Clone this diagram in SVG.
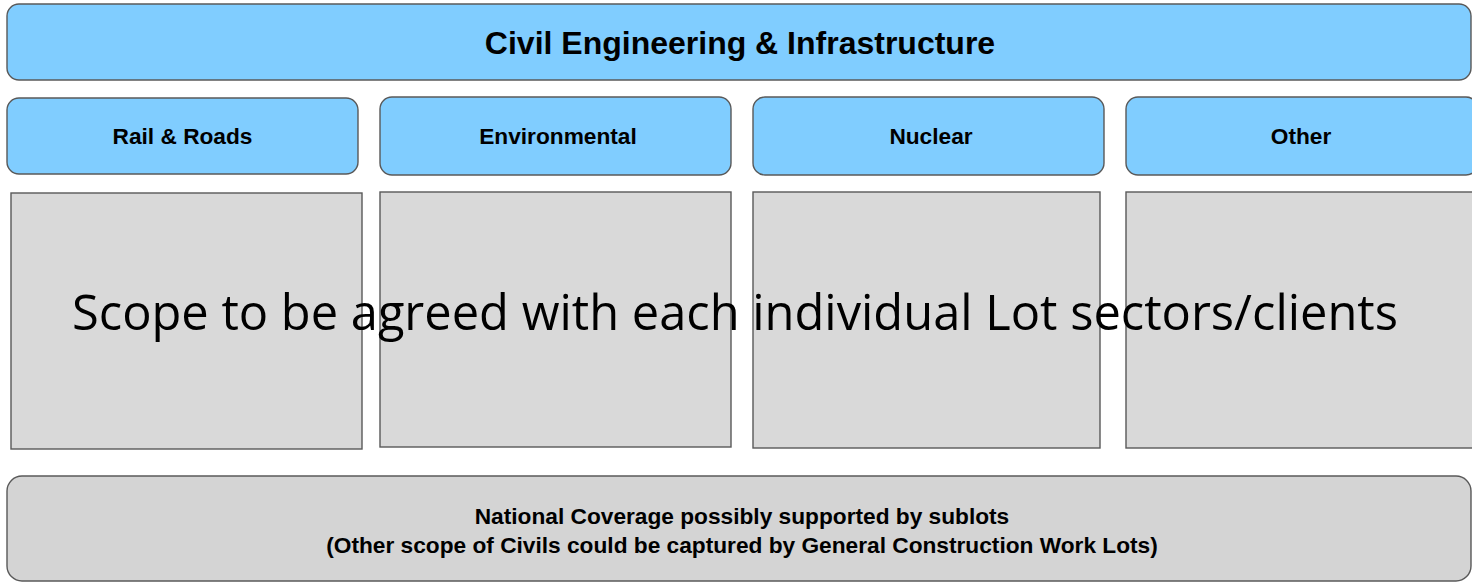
<svg xmlns="http://www.w3.org/2000/svg" width="1472" height="582" viewBox="0 0 1472 582">
<style>
.blue{fill:#80cdff;stroke:#595959;stroke-width:1.4}
.gray{fill:#d9d9d9;stroke:#595959;stroke-width:1.4}
.base{fill:#d4d4d4;stroke:#595959;stroke-width:1.4}
.lbl{font-family:"Liberation Sans",Arial,sans-serif;font-weight:bold;fill:#000;text-anchor:middle}
.scope{font-family:"Open Sans","Noto Sans",sans-serif;fill:#000}
</style>
<rect width="1472" height="582" fill="#ffffff"/>
<g id="title">
<rect class="blue" x="7" y="4" width="1464" height="76" rx="12"/>
<text class="lbl" x="740" y="54" font-size="32">Civil Engineering &amp; Infrastructure</text>
</g>
<g id="rail">
<rect class="blue" x="7" y="98" width="351" height="76" rx="12"/>
<text class="lbl" x="182.5" y="143.5" font-size="22.7">Rail &amp; Roads</text>
</g>
<g id="environmental">
<rect class="blue" x="380" y="97" width="351" height="78" rx="12"/>
<text class="lbl" x="558" y="143.5" font-size="22.7">Environmental</text>
</g>
<g id="nuclear">
<rect class="blue" x="753" y="97" width="351" height="78" rx="12"/>
<text class="lbl" x="931" y="143.5" font-size="22.7">Nuclear</text>
</g>
<g id="other">
<rect class="blue" x="1126" y="97" width="352" height="78" rx="12"/>
<text class="lbl" x="1301" y="143.5" font-size="22.7">Other</text>
</g>
<g id="rail-scope"><rect class="gray" x="11" y="193" width="351" height="256"/></g>
<g id="environmental-scope"><rect class="gray" x="380" y="192" width="351" height="255"/></g>
<g id="nuclear-scope"><rect class="gray" x="753" y="192" width="347" height="256"/></g>
<g id="other-scope"><rect class="gray" x="1126" y="192" width="352" height="256"/></g>
<g id="national">
<rect class="base" x="7" y="476" width="1464" height="105" rx="15"/>
<text class="lbl" x="742" y="523.5" font-size="22.7">National Coverage possibly supported by sublots</text>
<text class="lbl" x="742" y="552.5" font-size="22.7">(Other scope of Civils could be captured by General Construction Work Lots)</text>
</g>
<g id="connectors"></g>
<text class="scope" x="72" y="329.5" font-size="49" textLength="1326" lengthAdjust="spacingAndGlyphs">Scope to be agreed with each individual Lot sectors/clients</text>
</svg>
